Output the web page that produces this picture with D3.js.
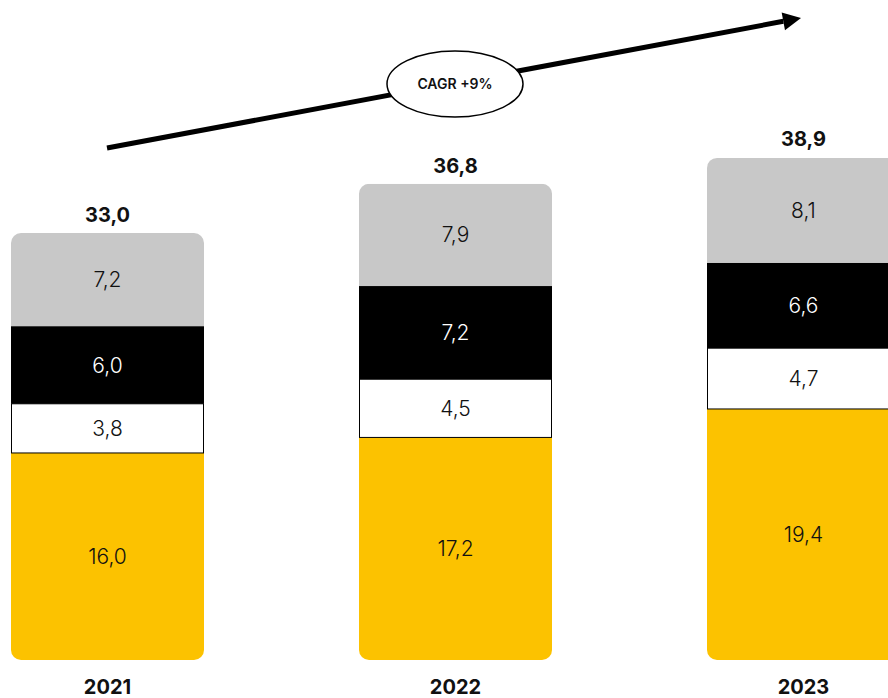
<!DOCTYPE html>
<html><head><meta charset="utf-8">
<script src="https://cdn.jsdelivr.net/npm/d3@7"></script>
<style>html,body{margin:0;padding:0;background:#fff;overflow:hidden}</style>
</head><body>
<svg id="c" width="888" height="698"></svg>
<script>
const years = ["2021", "2022", "2023"];
const seriesYellow = [16.0, 17.2, 19.4];
const seriesWhite = [3.8, 4.5, 4.7];
const seriesBlack = [6.0, 7.2, 6.6];
const seriesGrey = [7.2, 7.9, 8.1];
const totals = [33.0, 36.8, 38.9];
const cagrLabel = "CAGR +9%";

const series = [
  {key: "yellow", vals: seriesYellow, fill: "#fcc200", text: "#111"},
  {key: "white", vals: seriesWhite, fill: "#ffffff", text: "#111"},
  {key: "black", vals: seriesBlack, fill: "#000000", text: "#fff"},
  {key: "grey", vals: seriesGrey, fill: "#c8c8c8", text: "#111"}
];
const fmt = v => v.toFixed(1).replace(".", ",");

const svg = d3.select("#c");
const x = d3.scaleBand().domain(years).range([11, 900]).paddingInner(0.4454).paddingOuter(0);
const y = d3.scaleLinear().domain([0, 40]).range([660, 142.4]);
const font = "Inter, 'Noto Sans', sans-serif";

const defs = svg.append("defs");
years.forEach((yr, i) => {
  const total = series.reduce((s, se) => s + se.vals[i], 0);
  defs.append("clipPath").attr("id", "clip" + i)
    .append("rect")
    .attr("x", x(yr)).attr("width", x.bandwidth())
    .attr("y", y(total)).attr("height", y(0) - y(total))
    .attr("rx", 10).attr("ry", 10);
});

years.forEach((yr, i) => {
  const g = svg.append("g").attr("clip-path", `url(#clip${i})`);
  let base = 0;
  series.forEach(se => {
    const v = se.vals[i];
    const y0 = y(base), y1 = y(base + v);
    g.append("rect")
      .attr("x", x(yr) + (se.key === "white" ? 0.5 : 0))
      .attr("width", x.bandwidth() - (se.key === "white" ? 1 : 0))
      .attr("y", y1).attr("height", y0 - y1)
      .attr("fill", se.fill)
      .attr("stroke", se.key === "white" ? "#000" : "none")
      .attr("stroke-width", 1);
    base += v;
  });
  base = 0;
  series.forEach(se => {
    const v = se.vals[i];
    const yc = (y(base) + y(base + v)) / 2;
    svg.append("text")
      .attr("x", x(yr) + x.bandwidth() / 2).attr("y", yc)
      .attr("dy", "0.36em").attr("text-anchor", "middle")
      .attr("font-family", font).attr("font-size", 21).attr("font-weight", 300)
      .attr("fill", se.text).text(fmt(v));
    base += v;
  });
  svg.append("text")
    .attr("x", x(yr) + x.bandwidth() / 2).attr("y", y(totals[i]) - 11)
    .attr("text-anchor", "middle")
    .attr("font-family", font).attr("font-size", 20).attr("font-weight", 700)
    .attr("fill", "#111").text(fmt(totals[i]));
  svg.append("text")
    .attr("x", x(yr) + x.bandwidth() / 2).attr("y", 694)
    .attr("text-anchor", "middle")
    .attr("font-family", font).attr("font-size", 20).attr("font-weight", 700)
    .attr("fill", "#111").text(yr);
});

// CAGR arrow
const ax0 = 107, ay0 = 148, ax1 = 801, ay1 = 18;
const ang = Math.atan2(ay1 - ay0, ax1 - ax0);
const hl = 18, hw = 9;
const bx = ax1 - hl * Math.cos(ang), by = ay1 - hl * Math.sin(ang);
svg.append("line").attr("x1", ax0).attr("y1", ay0).attr("x2", bx).attr("y2", by)
  .attr("stroke", "#000").attr("stroke-width", 5);
svg.append("polygon")
  .attr("points", [
    [ax1, ay1],
    [bx + hw * Math.sin(ang), by - hw * Math.cos(ang)],
    [bx - hw * Math.sin(ang), by + hw * Math.cos(ang)]
  ].map(p => p.join(",")).join(" "))
  .attr("fill", "#000");
svg.append("ellipse").attr("cx", 455).attr("cy", 84).attr("rx", 68).attr("ry", 33)
  .attr("fill", "#fff").attr("stroke", "#000").attr("stroke-width", 1.5);
svg.append("text").attr("x", 455).attr("y", 84).attr("dy", "0.36em")
  .attr("text-anchor", "middle").attr("font-family", font)
  .attr("font-size", 14).attr("font-weight", 600).attr("fill", "#111").text(cagrLabel);
</script>
</body></html>
